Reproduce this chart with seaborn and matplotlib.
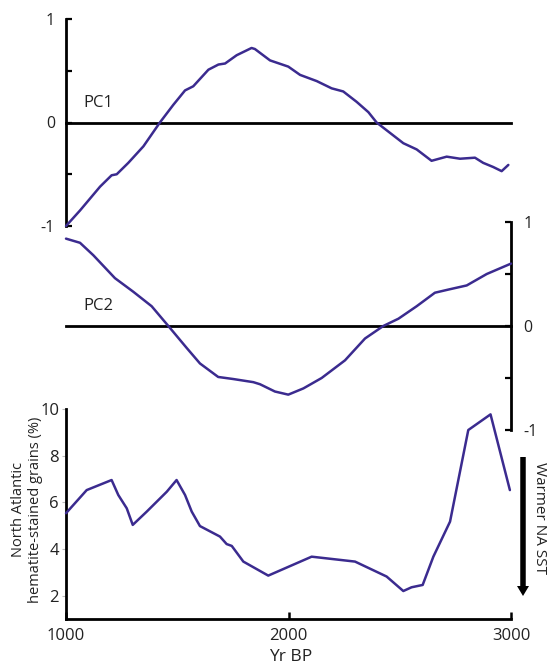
import numpy as np
import pandas as pd
import matplotlib
matplotlib.use('Agg')
import matplotlib.pyplot as plt
import seaborn as sns
from matplotlib.patches import FancyArrow
from matplotlib.ticker import FixedLocator, NullFormatter

# ---------------- data ----------------
pc1_year = [1000, 1063, 1153, 1205, 1228, 1280, 1348, 1422, 1482, 1535, 1572,
            1640, 1685, 1715, 1767, 1834, 1849, 1917, 1999, 2052, 2127, 2194,
            2246, 2306, 2359, 2396, 2456, 2516, 2576, 2643, 2711, 2771, 2838,
            2875, 2920, 2958, 2988]
pc1_value = [-1.0, -0.85, -0.62, -0.51, -0.50, -0.39, -0.23, 0.0, 0.17, 0.31,
             0.35, 0.51, 0.56, 0.57, 0.65, 0.72, 0.71, 0.60, 0.54, 0.46, 0.40,
             0.33, 0.30, 0.20, 0.10, 0.0, -0.10, -0.20, -0.26, -0.37, -0.33,
             -0.35, -0.34, -0.39, -0.43, -0.47, -0.41]

pc2_year = [1000, 1063, 1123, 1220, 1302, 1385, 1460, 1542, 1602, 1684, 1752,
            1842, 1872, 1939, 1999, 2067, 2149, 2254, 2344, 2426, 2494, 2576,
            2658, 2718, 2801, 2891, 3000]
pc2_value = [0.84, 0.80, 0.68, 0.46, 0.33, 0.19, 0.0, -0.21, -0.36, -0.49,
             -0.51, -0.54, -0.56, -0.63, -0.66, -0.60, -0.50, -0.33, -0.12,
             0.0, 0.07, 0.19, 0.32, 0.35, 0.39, 0.50, 0.60]

hem_year = [1000, 1093, 1205, 1235, 1273, 1300, 1363, 1453, 1497, 1535, 1565,
            1602, 1692, 1722, 1745, 1797, 1909, 2104, 2299, 2441, 2516, 2553,
            2603, 2651, 2726, 2808, 2908, 2995]
hem_value = [5.54, 6.53, 6.96, 6.32, 5.75, 5.04, 5.61, 6.46, 6.96, 6.32, 5.61,
             4.99, 4.54, 4.22, 4.14, 3.47, 2.87, 3.68, 3.47, 2.83, 2.21, 2.37,
             2.47, 3.68, 5.18, 9.10, 9.77, 6.53]

x_ticks = [1000, 2000, 3000]
x_tick_labels = ['1000', '2000', '3000']
pc_ticks = [-1, 0, 1]
pc_tick_labels = ['-1', '0', '1']
pc_minor_ticks = [-0.5, 0.5]
hem_ticks = [2, 4, 6, 8, 10]
hem_tick_labels = ['2', '4', '6', '8', '10']

# ---------------- style ----------------
sns.set_style('white')
plt.rcParams['font.family'] = ['Open Sans', 'DejaVu Sans']

LINE = '#3b2b8f'
AXLW = 2.0
TXT = '#222222'

W, H = 548, 665
fig = plt.figure(figsize=(W / 100, H / 100), dpi=100)


def rect(l, r, t, b):
    return [l / W, 1 - b / H, (r - l) / W, (b - t) / H]


ax1 = fig.add_axes(rect(66, 511, 19, 226))
ax2 = fig.add_axes(rect(66, 511, 222, 430))
ax3 = fig.add_axes(rect(66, 511, 409, 619.3))

df1 = pd.DataFrame({'year': pc1_year, 'v': pc1_value})
df2 = pd.DataFrame({'year': pc2_year, 'v': pc2_value})
df3 = pd.DataFrame({'year': hem_year, 'v': hem_value})

for ax, df in ((ax1, df1), (ax2, df2), (ax3, df3)):
    sns.lineplot(data=df, x='year', y='v', ax=ax, color=LINE, lw=1.8,
                 clip_on=False, zorder=5)
    ax.set_facecolor('none')
    ax.set_xlim(1000, 3000)
    ax.set_xlabel('')
    ax.set_ylabel('')
    for s in ax.spines.values():
        s.set_linewidth(AXLW)
        s.set_color('black')

# ---- PC1 panel ----
ax1.set_ylim(-1, 1)
ax1.spines['top'].set_visible(False)
ax1.spines['right'].set_visible(False)
ax1.spines['bottom'].set_position(('data', 0))
ax1.set_xticks([2000])
ax1.xaxis.set_major_formatter(NullFormatter())
ax1.tick_params(axis='x', direction='inout', length=6, width=1.8, color='black')
ax1.set_yticks(pc_ticks)
ax1.set_yticklabels(pc_tick_labels)
ax1.yaxis.set_minor_locator(FixedLocator(pc_minor_ticks))
ax1.tick_params(axis='y', which='both', direction='in', length=4, width=1.6,
                color='black', pad=8, labelsize=11.5, labelcolor=TXT, left=True)
ax1.text(1076, 0.19, 'PC1', ha='left', va='center', fontsize=12, color=TXT)

# ---- PC2 panel ----
ax2.set_ylim(-1, 1)
ax2.spines['top'].set_visible(False)
ax2.spines['left'].set_visible(False)
ax2.spines['bottom'].set_position(('data', 0))
ax2.set_xticks([2000])
ax2.xaxis.set_major_formatter(NullFormatter())
ax2.tick_params(axis='x', direction='inout', length=6, width=1.8, color='black')
ax2.yaxis.tick_right()
ax2.set_yticks(pc_ticks)
ax2.set_yticklabels(pc_tick_labels)
ax2.yaxis.set_minor_locator(FixedLocator(pc_minor_ticks))
ax2.tick_params(axis='y', which='both', direction='in', length=4, width=1.6,
                color='black', pad=9, labelsize=11.5, labelcolor=TXT,
                right=True, left=False)
ax2.text(1076, 0.19, 'PC2', ha='left', va='center', fontsize=12, color=TXT)

# ---- hematite panel ----
ax3.set_ylim(1, 10)
ax3.spines['top'].set_visible(False)
ax3.spines['right'].set_visible(False)
ax3.set_yticks(hem_ticks)
ax3.set_yticklabels(hem_tick_labels)
ax3.yaxis.set_minor_locator(FixedLocator([10]))
ax3.tick_params(axis='y', which='major', direction='out', length=3, width=0.8,
                color='#bbbbbb', pad=2, labelsize=12, labelcolor=TXT, left=True)
ax3.tick_params(axis='y', which='minor', direction='in', length=4, width=1.8,
                color='black', left=True)
ax3.set_xticks(x_ticks)
ax3.set_xticklabels(x_tick_labels)
ax3.tick_params(axis='x', direction='in', length=5, width=1.8, color='black',
                pad=6, labelsize=12, labelcolor=TXT, bottom=True)
ax3.set_xlabel('Yr BP', fontsize=12.5, color=TXT)
ax3.xaxis.set_label_coords(0.504, -0.14)
ax3.set_ylabel('North Atlantic\nhematite-stained grains (%)', fontsize=10.5,
               color=TXT, linespacing=1.2)
ax3.yaxis.set_label_coords(-0.052, 0.52)

# ---- "Warmer NA SST" arrow ----
arrow = FancyArrow(5.23, (H - 457) / 100, 0, -(596 - 457) / 100,
                   width=0.055, head_width=0.12, head_length=0.1,
                   length_includes_head=True, transform=fig.dpi_scale_trans,
                   color='black', lw=0)
fig.add_artist(arrow)
fig.text(539.5 / W, 1 - 518 / H, 'Warmer NA SST', rotation=-90, ha='center',
         va='center', fontsize=11, color=TXT)

fig.savefig('out.png', dpi=100)
